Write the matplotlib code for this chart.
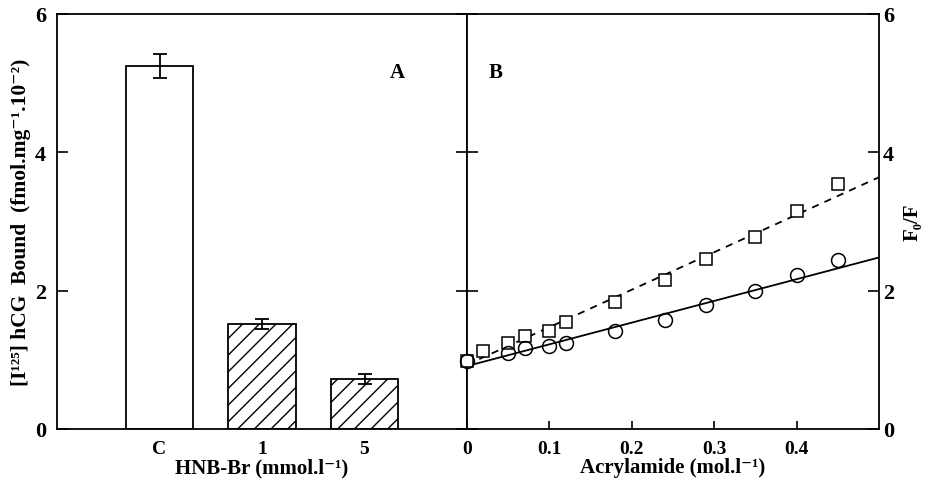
import matplotlib
matplotlib.use("Agg")
import matplotlib.pyplot as plt
import numpy as np

plt.rcParams['font.family'] = ['Liberation Serif', 'DejaVu Serif']
plt.rcParams['font.weight'] = 'bold'
plt.rcParams['axes.labelweight'] = 'bold'
plt.rcParams['hatch.linewidth'] = 1.0

# Panel A data
categories = ['C', '1', '5']
bound = [5.25, 1.52, 0.72]
bound_err = [0.17, 0.07, 0.07]
hatches = ['', '//', '//']

# Panel B data
acr_circ = [0.0, 0.05, 0.07, 0.10, 0.12, 0.18, 0.24, 0.29, 0.35, 0.40, 0.45]
f_circ = [0.99, 1.10, 1.17, 1.20, 1.25, 1.42, 1.58, 1.79, 1.99, 2.22, 2.44]
acr_sq = [0.0, 0.02, 0.05, 0.07, 0.10, 0.12, 0.18, 0.24, 0.29, 0.35, 0.40, 0.45]
f_sq = [0.99, 1.13, 1.24, 1.35, 1.42, 1.54, 1.83, 2.15, 2.46, 2.78, 3.15, 3.54]
# fitted lines (intercept, slope)
solid_fit = (0.91, 3.14)
dashed_fit = (0.93, 5.42)
line_x = [0.0, 0.5]

W, H = 930, 485
fig = plt.figure(figsize=(W / 100, H / 100), dpi=100)
bottom = 1 - 430 / H
height = (430 - 15) / H
ax1 = fig.add_axes([57 / W, bottom, 410 / W, height])
ax2 = fig.add_axes([467 / W, bottom, 412 / W, height])

fs = 14
lfs = 15
lw = 1.3

# ---- Panel A
x = np.arange(len(categories))
for xi, v, e, h in zip(x, bound, bound_err, hatches):
    ax1.bar(xi, v, width=0.66, color='white', edgecolor='black', linewidth=lw,
            hatch=h, zorder=2)
ax1.errorbar(x, bound, yerr=bound_err, fmt='none', ecolor='black', elinewidth=1.3,
             capsize=5, capthick=1.3, zorder=3)
ax1.set_xlim(-1, 3)
ax1.set_ylim(0, 6)
ax1.set_xticks(x)
ax1.set_xticklabels(categories)
ax1.tick_params(axis='x', length=0, pad=8, labelsize=fs)
ax1.set_yticks([0, 2, 4, 6])
ax1.tick_params(axis='y', direction='in', length=8, width=1.2, labelsize=fs + 2,
                right=True, pad=8)
ax1.set_xlabel('HNB-Br (mmol.l\u207b\u00b9)', fontsize=lfs, labelpad=0)
ax1.set_ylabel('[I\u00b9\u00b2\u2075] hCG  Bound  (fmol.mg\u207b\u00b9.10\u207b\u00b2)',
               fontsize=lfs + 0.5, labelpad=3)
ax1.text(0.83, 0.86, 'A', transform=ax1.transAxes, fontsize=fs + 1,
         ha='center', va='center')
for s in ax1.spines.values():
    s.set_linewidth(lw)

# ---- Panel B
ax2.plot(line_x, [solid_fit[0] + solid_fit[1] * t for t in line_x],
         color='black', linewidth=1.3)
ax2.plot(line_x, [dashed_fit[0] + dashed_fit[1] * t for t in line_x],
         color='black', linewidth=1.3, linestyle=(0, (4, 3.5)))
ax2.plot(acr_sq, f_sq, linestyle='none', marker='s', markersize=8,
         markerfacecolor='white', markeredgecolor='black', markeredgewidth=1.1,
         clip_on=False, zorder=3)
ax2.plot(acr_circ, f_circ, linestyle='none', marker='o', markersize=10,
         markerfacecolor='none', markeredgecolor='black', markeredgewidth=1.1,
         clip_on=False, zorder=3)
ax2.set_xlim(0, 0.5)
ax2.set_ylim(0, 6)
ax2.set_xticks([0, 0.1, 0.2, 0.3, 0.4])
ax2.set_xticklabels(['0', '0.1', '0.2', '0.3', '0.4'])
ax2.tick_params(axis='x', direction='in', length=6, width=1.2, labelsize=fs, pad=8)
ax2.set_yticks([0, 2, 4, 6])
ax2.yaxis.tick_right()
ax2.tick_params(axis='y', direction='in', length=8, width=1.2, labelsize=fs + 2,
                left=True, right=True, labelleft=False, labelright=True, pad=3)
ax2.set_xlabel('Acrylamide (mol.l\u207b\u00b9)', fontsize=lfs, labelpad=0)
ax2.yaxis.set_label_position('right')
ax2.set_ylabel('F\u2080/F', fontsize=lfs, labelpad=6)
ax2.text(0.07, 0.86, 'B', transform=ax2.transAxes, fontsize=fs + 1,
         ha='center', va='center')
for s in ax2.spines.values():
    s.set_linewidth(lw)

fig.savefig('out.png', dpi=100)
